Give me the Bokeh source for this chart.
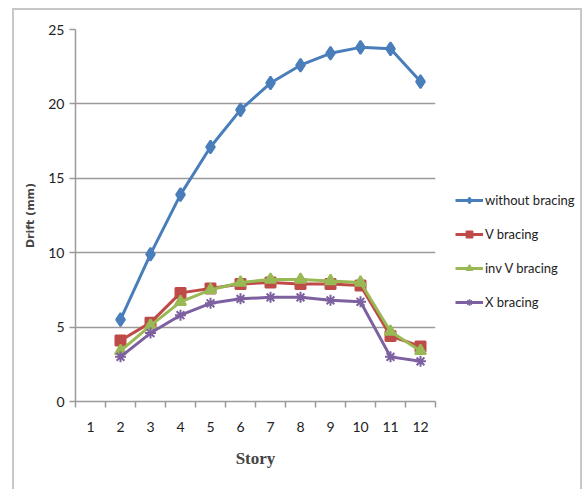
from bokeh.plotting import figure
from bokeh.layouts import row, column
from bokeh.models import FixedTicker, Legend, LegendItem, Range1d, Spacer
from bokeh.embed import file_html
from bokeh.resources import INLINE

stories = [2, 3, 4, 5, 6, 7, 8, 9, 10, 11, 12]
without_bracing = [5.5, 9.9, 13.9, 17.1, 19.6, 21.4, 22.6, 23.4, 23.8, 23.7, 21.5]
v_bracing = [4.1, 5.3, 7.3, 7.6, 7.9, 8.0, 7.9, 7.9, 7.8, 4.4, 3.7]
inv_v_bracing = [3.4, 5.1, 6.7, 7.5, 8.0, 8.2, 8.2, 8.1, 8.0, 4.7, 3.4]
x_bracing = [3.0, 4.6, 5.8, 6.6, 6.9, 7.0, 7.0, 6.8, 6.7, 3.0, 2.7]
x_ticks = list(range(1, 13))
y_ticks = [0, 5, 10, 15, 20, 25]

FONT = "Lato"
H = 484

p = figure(width=431, height=H, output_backend="svg", toolbar_location=None,
           x_range=Range1d(0.5, 12.5), y_range=Range1d(0, 25),
           min_border_left=61, min_border_right=10, min_border_top=19, min_border_bottom=H - 19 - 372)
p.outline_line_color = None
p.background_fill_color = "white"

p.xaxis.ticker = FixedTicker(ticks=x_ticks, minor_ticks=[x + 0.5 for x in range(0, 13)])
p.yaxis.ticker = FixedTicker(ticks=y_ticks, minor_ticks=[])
p.xgrid.visible = False
p.ygrid.grid_line_color = "#9a9a9a"
p.ygrid.grid_line_width = 1.5

for ax in (p.xaxis, p.yaxis):
    ax.axis_line_color = "#9a9a9a"
    ax.axis_line_width = 1.5
    ax.major_label_text_font = FONT
    ax.major_label_text_font_size = "14px"
    ax.major_label_text_color = "#222222"

p.xaxis.major_tick_line_color = None
p.xaxis.minor_tick_line_color = "#9a9a9a"
p.xaxis.minor_tick_line_width = 1.5
p.xaxis.minor_tick_out = 6
p.xaxis.minor_tick_in = 0
p.xaxis.major_label_standoff = 14
p.xaxis.axis_label = "Story"
p.xaxis.axis_label_text_font = "Liberation Serif"
p.xaxis.axis_label_text_font_style = "bold"
p.xaxis.axis_label_text_font_size = "17px"
p.xaxis.axis_label_standoff = 14

p.yaxis.major_tick_line_color = "#9a9a9a"
p.yaxis.major_tick_line_width = 1.5
p.yaxis.major_tick_out = 6
p.yaxis.major_tick_in = 0
p.yaxis.axis_label = "Drift (mm)"
p.yaxis.axis_label_text_font = "DejaVu Sans"
p.yaxis.axis_label_text_font_style = "bold"
p.yaxis.axis_label_text_font_size = "11px"
p.yaxis.axis_label_standoff = 8

series = [
    ("without bracing", without_bracing, "#4A7EBB", "diamond", 13),
    ("V bracing", v_bracing, "#BE4B48", "square", 10),
    ("inv V bracing", inv_v_bracing, "#98B954", "triangle", 11),
    ("X bracing", x_bracing, "#7D60A0", "asterisk", 11),
]

# legend panel: a separate figure whose proxy renderers lie outside its ranges
lg = figure(width=135, height=H, output_backend="svg", toolbar_location=None,
            x_range=Range1d(-100, -99), y_range=Range1d(-100, -99),
            min_border=0)
lg.axis.visible = False
lg.grid.visible = False
lg.outline_line_color = None

items = []
for name, vals, color, marker, size in series:
    p.line(stories, vals, line_color=color, line_width=3)
    p.scatter(stories, vals, marker=marker, size=size, fill_color=color,
              line_color=color, line_width=2)
    l2 = lg.line(stories, vals, line_color=color, line_width=3)
    m2 = lg.scatter(stories, vals, marker=marker, size=8, fill_color=color,
                    line_color=color, line_width=1.5)
    items.append(LegendItem(label=name, renderers=[l2, m2]))

legend = Legend(items=items, location=(10, 91), orientation="vertical",
                label_text_font=FONT, label_text_font_size="13px",
                label_text_color="#222222", glyph_width=28, glyph_height=16,
                spacing=18, padding=0, margin=0, label_standoff=2,
                border_line_color=None, background_fill_alpha=0)
lg.add_layout(legend, "center")

inner = row(p, lg)
inner.styles = {"border": "2px solid #c8c8c8"}
layout = column(Spacer(height=8), row(Spacer(width=12), inner))

open("out.html", "w").write(file_html(layout, INLINE))
